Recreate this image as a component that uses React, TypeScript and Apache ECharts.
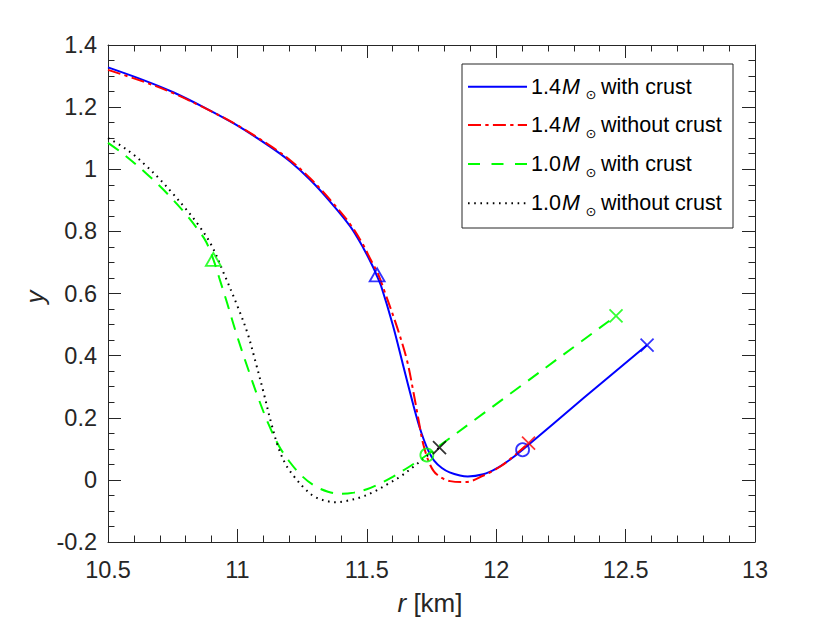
import React, { useEffect, useRef } from "react";
import * as echarts from "echarts";

// ---------- data ----------
const xTickLabels = ["10.5", "11", "11.5", "12", "12.5", "13"];
const yTickLabels = ["-0.2", "0", "0.2", "0.4", "0.6", "0.8", "1", "1.2", "1.4"];

const blueWithCrust14: [number, number][] = [
  [10.5, 1.328], [10.637, 1.287], [10.752, 1.248], [10.869, 1.2], [10.991, 1.145],
  [11.126, 1.073], [11.204, 1.025], [11.281, 0.966], [11.358, 0.896], [11.436, 0.816],
  [11.487, 0.746], [11.526, 0.682], [11.54, 0.655], [11.555, 0.625], [11.6, 0.5],
  [11.64, 0.37], [11.68, 0.24], [11.7, 0.18], [11.72, 0.13], [11.74, 0.09],
  [11.76, 0.062], [11.79, 0.038], [11.82, 0.024], [11.86, 0.014], [11.89, 0.011],
  [11.95, 0.018], [12.0, 0.036], [12.05, 0.063], [12.102, 0.097], [12.34, 0.265],
  [12.583, 0.434],
];
const redWithoutCrust14: [number, number][] = [
  [10.5, 1.32], [10.637, 1.282], [10.752, 1.245], [10.869, 1.199], [10.991, 1.146],
  [11.126, 1.076], [11.204, 1.029], [11.281, 0.971], [11.358, 0.902], [11.436, 0.823],
  [11.487, 0.755], [11.513, 0.712], [11.545, 0.66], [11.571, 0.601], [11.616, 0.494],
  [11.655, 0.386], [11.681, 0.279], [11.7, 0.193], [11.719, 0.112], [11.745, 0.048],
  [11.771, 0.017], [11.822, -0.004], [11.88, -0.007], [11.951, 0.014], [12.016, 0.043],
  [12.07, 0.078], [12.125, 0.118],
];
const greenWithCrust10: [number, number][] = [
  [10.5, 1.085], [10.55, 1.055], [10.6, 1.021], [10.65, 0.985], [10.7, 0.946],
  [10.75, 0.903], [10.8, 0.856], [10.85, 0.803], [10.88, 0.765], [10.907, 0.71],
  [10.93, 0.65], [10.96, 0.57], [11.0, 0.46], [11.04, 0.36], [11.08, 0.265],
  [11.12, 0.18], [11.16, 0.11], [11.2, 0.06], [11.25, 0.012], [11.3, -0.02],
  [11.35, -0.038], [11.4, -0.045], [11.45, -0.041], [11.5, -0.03], [11.55, -0.012],
  [11.6, 0.01], [11.65, 0.035], [11.7, 0.062], [11.732, 0.08], [12.463, 0.528],
];
const blackWithoutCrust10: [number, number][] = [
  [10.5, 1.1], [10.55, 1.076], [10.6, 1.046], [10.65, 1.009], [10.7, 0.968],
  [10.75, 0.922], [10.8, 0.873], [10.85, 0.82], [10.9, 0.755], [10.95, 0.66],
  [11.0, 0.56], [11.04, 0.47], [11.07, 0.38], [11.1, 0.285], [11.13, 0.185],
  [11.16, 0.1], [11.19, 0.045], [11.22, 0.01], [11.26, -0.028], [11.3, -0.055],
  [11.35, -0.069], [11.38, -0.072], [11.42, -0.068], [11.48, -0.055], [11.53, -0.037],
  [11.58, -0.014], [11.63, 0.011], [11.68, 0.042], [11.73, 0.075], [11.781, 0.104],
];

const blueTriangle: [number, number][] = [[11.54, 0.66]];
const greenTriangle: [number, number][] = [[10.907, 0.71]];
const blueCircle: [number, number][] = [[12.102, 0.097]];
const greenCircle: [number, number][] = [[11.732, 0.08]];
const blueCross: [number, number][] = [[12.583, 0.434]];
const redCross: [number, number][] = [[12.125, 0.118]];
const greenCross: [number, number][] = [[12.463, 0.528]];
const blackCross: [number, number][] = [[11.781, 0.104]];

const legendMass = ["1.4", "1.4", "1.0", "1.0"];
const legendText = ["with crust", "without crust", "with crust", "without crust"];

// ---------- styles ----------
const FONT = "'Liberation Sans', Arial, Helvetica, sans-serif";
const AXIS = "#262626";
const BLUE = "#0000ff";
const RED = "#ff0000";
const GREEN = "#00ff00";
const BLACK = "#000000";
const DASH_RED = [13, 4.3, 3.3, 4.3];
const DASH_GREEN = [13, 9];
const DASH_BLACK = [1.6, 4.6];
const LEGEND_DASH_GREEN = [12, 11.5];
const SYM_X = "path://M0,0L10,10M0,10L10,0";
const TICK_FS = 23.5;

const legendColors = [BLUE, RED, GREEN, BLACK];
const legendDashes: (number[] | null)[] = [null, DASH_RED, LEGEND_DASH_GREEN, DASH_BLACK];

export default function App() {
  const ref = useRef<HTMLDivElement>(null);
  useEffect(() => {
    document.body.style.margin = "0";
    const chart = echarts.init(ref.current!, null, { renderer: "svg" });

    const axisCommon = {
      type: "value" as const,
      splitLine: { show: false },
      axisLine: { show: true, onZero: false, lineStyle: { color: AXIS, width: 1 } },
      axisTick: { show: true, inside: true, length: 13, lineStyle: { color: AXIS, width: 1 } },
      minorTick: { show: true, length: 6.5, lineStyle: { color: AXIS, width: 1 } },
    };
    const lab = (labels: string[]) => (v: number) => {
      const found = labels.find((l) => Math.abs(parseFloat(l) - v) < 1e-6);
      return found ?? "";
    };

    const line = (name: string, data: [number, number][], color: string, type: any) => ({
      name,
      type: "line",
      data,
      showSymbol: false,
      symbol: "none",
      smooth: 0.35,
      silent: true,
      lineStyle: { color, width: 2, type },
      itemStyle: { color },
    });
    const marks = (data: [number, number][], color: string, symbol: string, size: number | number[]) => ({
      type: "scatter",
      data,
      symbol,
      symbolSize: size,
      silent: true,
      z: 5,
      itemStyle: { color: "none", borderColor: color, borderWidth: 1.8 },
    });

    const rowsY = [86.7, 125, 164, 203.3];
    const LFS = 21.5;
    const legendEls: any[] = [
      {
        type: "rect",
        shape: { x: 462, y: 64, width: 271, height: 164 },
        style: { fill: "#fff", stroke: AXIS, lineWidth: 1 },
        z: 10,
      },
    ];
    rowsY.forEach((y, i) => {
      legendEls.push({
        type: "line",
        shape: { x1: 468, y1: y, x2: 527, y2: y },
        style: { stroke: legendColors[i], lineWidth: 2, lineDash: legendDashes[i] || undefined },
        z: 11,
      });
      legendEls.push({
        type: "text",
        x: 531,
        y,
        z: 11,
        style: { text: legendMass[i], fontSize: LFS, fontFamily: FONT, fill: "#000", align: "left", verticalAlign: "middle" },
      });
      legendEls.push({
        type: "text",
        x: 562,
        y,
        z: 11,
        style: { text: "M", fontSize: LFS, fontStyle: "italic", fontFamily: FONT, fill: "#000", align: "left", verticalAlign: "middle" },
      });
      legendEls.push({
        type: "text",
        x: 591,
        y: y + 8,
        z: 11,
        style: { text: "⊙", fontSize: 13, fontFamily: "'DejaVu Sans', sans-serif", fill: "#000", align: "center", verticalAlign: "middle" },
      });
      legendEls.push({
        type: "text",
        x: 601,
        y,
        z: 11,
        style: { text: legendText[i], fontSize: LFS, fontFamily: FONT, fill: "#000", align: "left", verticalAlign: "middle" },
      });
    });

    chart.setOption({
      animation: false,
      backgroundColor: "#fff",
      grid: { left: 108, right: 75, top: 45, bottom: 81, containLabel: false },
      xAxis: [
        {
          ...axisCommon,
          position: "bottom",
          min: 10.5,
          max: 13,
          interval: 0.5,
          minorTick: { ...axisCommon.minorTick, splitNumber: 5 },
          axisLabel: { show: true, color: AXIS, fontSize: TICK_FS, fontFamily: FONT, margin: 16, formatter: lab(xTickLabels) },
        },
        {
          ...axisCommon,
          position: "top",
          min: 10.5,
          max: 13,
          interval: 0.5,
          minorTick: { ...axisCommon.minorTick, splitNumber: 5 },
          axisLabel: { show: false },
        },
      ],
      yAxis: [
        {
          ...axisCommon,
          position: "left",
          min: -0.2,
          max: 1.4,
          interval: 0.2,
          minorTick: { ...axisCommon.minorTick, splitNumber: 4 },
          axisLabel: { show: true, color: AXIS, fontSize: TICK_FS, fontFamily: FONT, margin: 11, formatter: lab(yTickLabels) },
        },
        {
          ...axisCommon,
          position: "right",
          min: -0.2,
          max: 1.4,
          interval: 0.2,
          minorTick: { ...axisCommon.minorTick, splitNumber: 4 },
          axisLabel: { show: false },
        },
      ],
      series: [
        line("1.4 with crust", blueWithCrust14, BLUE, "solid"),
        line("1.4 without crust", redWithoutCrust14, RED, DASH_RED),
        line("1.0 with crust", greenWithCrust10, GREEN, DASH_GREEN),
        line("1.0 without crust", blackWithoutCrust10, BLACK, DASH_BLACK),
        marks(blueTriangle, BLUE, "triangle", [15, 13]),
        marks(greenTriangle, GREEN, "triangle", [15, 13]),
        marks(blueCircle, BLUE, "circle", 13),
        marks(greenCircle, GREEN, "circle", 13),
        marks(blueCross, BLUE, SYM_X, 13),
        marks(redCross, RED, SYM_X, 13),
        marks(greenCross, GREEN, SYM_X, 13),
        marks(blackCross, BLACK, SYM_X, 13),
      ],
      graphic: [
        ...legendEls,
        {
          type: "text",
          x: 35,
          y: 297,
          rotation: Math.PI / 2,
          style: { text: "y", fontSize: 26, fontStyle: "italic", fontFamily: FONT, fill: AXIS, align: "center", verticalAlign: "middle" },
        },
        {
          type: "text",
          x: 430,
          y: 603,
          style: {
            text: "{i|r} [km]",
            fontSize: 26,
            fontFamily: FONT,
            fill: AXIS,
            align: "center",
            verticalAlign: "middle",
            rich: { i: { fontStyle: "italic", fontSize: 26, fontFamily: FONT, fill: AXIS } },
          },
        },
      ],
    });
    return () => chart.dispose();
  }, []);
  return <div ref={ref} style={{ position: "fixed", left: 0, top: 0, width: 830, height: 623 }} />;
}
